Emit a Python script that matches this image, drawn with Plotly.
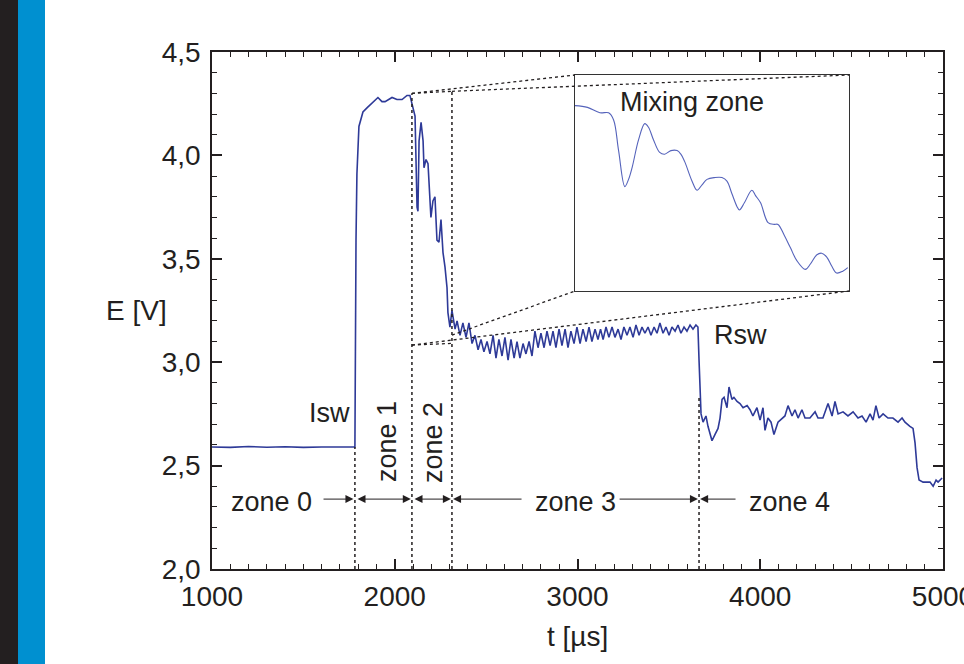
import plotly.graph_objects as go

# ---------------- data ----------------
t_us = [1000, 1100, 1200, 1300, 1400, 1500, 1600, 1700, 1778,
        1782, 1788, 1793, 1804, 1826, 1848, 1881, 1908, 1930, 1947, 1985, 2012, 2040, 2067, 2083,
        2100, 2111, 2116, 2122, 2127, 2133, 2144, 2155, 2160, 2171, 2182, 2193, 2198, 2209, 2220,
        2231, 2242, 2253, 2264, 2275, 2286, 2291, 2302, 2313, 2319, 2330,
        2341, 2357, 2373, 2390, 2406, 2423, 2439, 2456, 2472, 2488, 2505, 2521, 2538, 2554, 2570,
        2587, 2603, 2620, 2636, 2653, 2669, 2685, 2702, 2718, 2735, 2751, 2767, 2784, 2800, 2817,
        2833, 2850, 2866, 2882, 2899, 2915, 2932, 2948, 2964, 2981, 2997, 3014, 3030, 3047, 3063,
        3079, 3096, 3112, 3126,
        3140, 3156, 3172, 3189, 3205, 3222, 3238, 3254, 3271, 3287, 3304, 3320, 3337, 3353, 3369,
        3386, 3402, 3419, 3435, 3451, 3468, 3484, 3501, 3517, 3534, 3550, 3566, 3583, 3599, 3616,
        3632, 3648, 3659, 3665, 3670, 3676, 3687, 3703, 3714, 3736, 3752, 3769, 3780, 3791, 3802,
        3818, 3829, 3845, 3856, 3873, 3889, 3906, 3928, 3944, 3960, 3982, 3999, 4015, 4026, 4042,
        4059, 4075, 4097, 4119, 4135, 4152, 4174, 4190, 4207, 4228, 4245, 4272, 4300, 4316, 4343,
        4371, 4393, 4409, 4426, 4453, 4480, 4508, 4535, 4557, 4579, 4601, 4617, 4633, 4650, 4672,
        4699, 4726, 4754, 4776, 4792, 4819, 4836, 4847, 4858, 4869, 4891, 4913, 4929, 4946, 4962,
        4973, 4995]
e_v = [2.590, 2.588, 2.592, 2.589, 2.591, 2.588, 2.590, 2.589, 2.590,
       2.59, 3.59, 3.91, 4.14, 4.21, 4.23, 4.26, 4.28, 4.26, 4.26, 4.28, 4.27, 4.27, 4.29, 4.29,
       4.23, 4.19, 3.99, 3.75, 3.73, 4.07, 4.16, 4.07, 3.94, 3.98, 3.96, 3.75, 3.70, 3.78, 3.80,
       3.59, 3.58, 3.69, 3.53, 3.46, 3.36, 3.24, 3.17, 3.25, 3.22, 3.16,
       3.20, 3.13, 3.19, 3.12, 3.19, 3.09, 3.13, 3.06, 3.11, 3.05, 3.10, 3.04, 3.13, 3.02, 3.11,
       3.03, 3.12, 3.01, 3.11, 3.02, 3.10, 3.02, 3.09, 3.04, 3.10, 3.03, 3.15, 3.07, 3.14, 3.07,
       3.15, 3.08, 3.15, 3.07, 3.16, 3.08, 3.16, 3.07, 3.15, 3.09, 3.17, 3.09, 3.16, 3.10, 3.17,
       3.10, 3.16, 3.11, 3.16,
       3.11, 3.17, 3.12, 3.17, 3.12, 3.16, 3.11, 3.17, 3.13, 3.17, 3.12, 3.18, 3.13, 3.17, 3.14,
       3.17, 3.13, 3.17, 3.14, 3.19, 3.14, 3.17, 3.13, 3.17, 3.15, 3.18, 3.14, 3.17, 3.15, 3.18,
       3.16, 3.18, 3.17, 3.01, 2.88, 2.75, 2.71, 2.74, 2.69, 2.62, 2.65, 2.68, 2.73, 2.82, 2.83,
       2.78, 2.88, 2.82, 2.83, 2.81, 2.80, 2.78, 2.79, 2.77, 2.74, 2.78, 2.72, 2.78, 2.67, 2.73,
       2.71, 2.65, 2.71, 2.73, 2.74, 2.79, 2.74, 2.77, 2.73, 2.77, 2.73, 2.73, 2.76, 2.73, 2.73,
       2.80, 2.74, 2.81, 2.75, 2.76, 2.74, 2.76, 2.73, 2.74, 2.71, 2.75, 2.72, 2.79, 2.73, 2.75,
       2.73, 2.73, 2.71, 2.73, 2.71, 2.69, 2.68, 2.61, 2.49, 2.43, 2.42, 2.42, 2.42, 2.40, 2.43,
       2.42, 2.44]

# inset ("Mixing zone") curve
inset_t = [2090, 2100, 2110, 2117, 2121, 2125, 2130, 2133, 2136, 2141, 2146, 2149, 2153, 2158,
           2162, 2167, 2172, 2175, 2178, 2184, 2188, 2192, 2196, 2202, 2208, 2212, 2216, 2220,
           2222, 2226, 2232, 2235, 2239, 2245, 2250, 2253, 2258, 2263, 2268, 2275, 2279, 2284,
           2288, 2292, 2296, 2300, 2305, 2309]
inset_e = [4.13, 4.12, 4.09, 4.09, 4.05, 3.88, 3.68, 3.72, 3.79, 3.94, 4.03, 4.01, 3.94, 3.87,
           3.86, 3.88, 3.88, 3.86, 3.82, 3.71, 3.66, 3.69, 3.72, 3.73, 3.73, 3.71, 3.64, 3.57,
           3.55, 3.59, 3.66, 3.63, 3.59, 3.48, 3.47, 3.47, 3.41, 3.34, 3.27, 3.22, 3.25, 3.30,
           3.31, 3.29, 3.24, 3.20, 3.21, 3.23]

x_tickvals = [1000, 2000, 3000, 4000, 5000]
x_ticktext = ["1000", "2000", "3000", "4000", "5000"]
y_tickvals = [2.0, 2.5, 3.0, 3.5, 4.0, 4.5]
y_ticktext = ["2,0", "2,5", "3,0", "3,5", "4,0", "4,5"]

# zone boundaries (Isw, zone1|2, zone2|3, Rsw) and top of their dotted markers
bound_t = [1782, 2094, 2313, 3665]
bound_top = [2.59, 4.30, 4.31, 2.84]
zoom_rect = dict(t0=2094, t1=2313, top0=4.30, top1=4.31, bot0=3.083, bot1=3.131)

arrow_e = 2.338
zone_labels = ["zone 0", "zone 1", "zone 2", "zone 3", "zone 4"]

# ---------------- figure ----------------
FONT = "Liberation Sans, Arial, sans-serif"
TXT = "#231f20"
X_RANGE = [1000, 5000]
Y_RANGE = [2.0, 4.5]
ML, MR, MT, MB = 212, 21, 52, 95
W, H = 964, 664
PW, PH = W - ML - MR, H - MT - MB

fig = go.Figure()
fig.add_trace(go.Scatter(x=t_us, y=e_v, mode="lines",
                         line=dict(color="#2e3a98", width=1.6), showlegend=False))
fig.add_trace(go.Scatter(x=inset_t, y=inset_e, mode="lines", xaxis="x2", yaxis="y2",
                         line=dict(color="#5563bb", width=1.1, shape="spline"), showlegend=False))

axis_common = dict(showgrid=False, zeroline=False, showline=True, linecolor=TXT, linewidth=1.5,
                   mirror="allticks", ticks="inside", ticklen=10, tickwidth=1.5, tickcolor=TXT,
                   ticklabeloverflow="allow", automargin=False,
                   tickfont=dict(family=FONT, size=28, color=TXT))

inset_dom_x = [(575 - ML) / PW, (849 - ML) / PW]
inset_dom_y = [(H - MB - 291) / PH, (H - MB - 75) / PH]
inset_xr = [2090, 2310]
inset_yr = [3.10, 4.30]

fig.update_layout(
    width=W, height=H, margin=dict(l=ML, r=MR, t=MT, b=MB, autoexpand=False),
    paper_bgcolor="white", plot_bgcolor="white",
    font=dict(family=FONT, color=TXT),
    xaxis=dict(range=X_RANGE, tickmode="array", tickvals=x_tickvals, ticktext=x_ticktext,
               minor=dict(tick0=1000, dtick=100, ticks="inside", ticklen=5, tickwidth=1.2,
                          tickcolor=TXT),
               ticklabelstandoff=2, **axis_common),
    yaxis=dict(range=Y_RANGE, tickmode="array", tickvals=y_tickvals, ticktext=y_ticktext,
               minor=dict(tick0=2.0, dtick=0.1, ticks="inside", ticklen=5, tickwidth=1.2,
                          tickcolor=TXT),
               ticklabelstandoff=4, **axis_common),
    xaxis2=dict(domain=inset_dom_x, range=inset_xr, anchor="y2", showticklabels=False,
                showgrid=False, zeroline=False, showline=True, mirror=True, automargin=False,
                linecolor="#333333", linewidth=1),
    yaxis2=dict(domain=inset_dom_y, range=inset_yr, anchor="x2", showticklabels=False,
                showgrid=False, zeroline=False, showline=True, mirror=True, automargin=False,
                linecolor="#333333", linewidth=1),
)

shapes = []
# left decorative bars
bx = lambda px: (px - ML) / PW
shapes.append(dict(type="rect", xref="paper", yref="paper", x0=bx(0), x1=bx(18),
                   y0=-MB / PH, y1=1 + MT / PH, fillcolor="#231f20", line=dict(width=0),
                   layer="above"))
shapes.append(dict(type="rect", xref="paper", yref="paper", x0=bx(18), x1=bx(45),
                   y0=-MB / PH, y1=1 + MT / PH, fillcolor="#0090d0", line=dict(width=0),
                   layer="above"))

dot = dict(color=TXT, width=1.5, dash="dot")
for bt, top in zip(bound_t, bound_top):
    shapes.append(dict(type="line", xref="x", yref="y", x0=bt, x1=bt, y0=Y_RANGE[0], y1=top,
                       line=dot))

# zoom connector lines (inset corners expressed in main data coords)
def to_t(frac):
    return X_RANGE[0] + frac * (X_RANGE[1] - X_RANGE[0])

def to_e(frac):
    return Y_RANGE[0] + frac * (Y_RANGE[1] - Y_RANGE[0])

iL, iR = to_t(inset_dom_x[0]), to_t(inset_dom_x[1])
iB, iT = to_e(inset_dom_y[0]), to_e(inset_dom_y[1])
zr = zoom_rect
conn = [
    (zr["t0"], zr["top0"], zr["t1"], zr["top1"]),
    (zr["t0"], zr["bot0"], zr["t1"], zr["bot1"] - 0.04),
    (zr["t0"], zr["top0"], iL, iT),
    (zr["t1"], zr["top1"], iR, iT),
    (zr["t1"], zr["bot1"], iL, iB),
    (zr["t0"], zr["bot0"], iR, iB),
]
for x0, y0, x1, y1 in conn:
    shapes.append(dict(type="line", xref="x", yref="y", x0=x0, y0=y0, x1=x1, y1=y1,
                       line=dict(color=TXT, width=1.3, dash="dot")))
fig.update_layout(shapes=shapes)

ann = []
def arrow(x_to, x_from, both=False):
    ann.append(dict(x=x_to, y=arrow_e, ax=x_from, ay=arrow_e, xref="x", yref="y",
                    axref="x", ayref="y", text="", showarrow=True, arrowhead=2,
                    arrowsize=1.6, arrowwidth=1, arrowcolor=TXT,
                    arrowside="end+start" if both else "end"))

arrow(bound_t[0] - 8, 1602)
arrow(bound_t[1] - 6, bound_t[0] + 6, both=True)
arrow(bound_t[2] - 6, bound_t[1] + 6, both=True)
arrow(bound_t[2] + 6, 2702)
arrow(bound_t[3] - 6, 3222)
arrow(bound_t[3] + 6, 3873)

tf = dict(family=FONT, size=27, color=TXT)
ann.append(dict(x=1323, y=arrow_e, text=zone_labels[0], showarrow=False, font=tf,
                xref="x", yref="y", yshift=-3))
ann.append(dict(x=1958, y=2.614, text=zone_labels[1], showarrow=False, font=tf, textangle=-90,
                xref="x", yref="y"))
ann.append(dict(x=2209, y=2.614, text=zone_labels[2], showarrow=False, font=tf, textangle=-90,
                xref="x", yref="y"))
ann.append(dict(x=2989, y=arrow_e, text=zone_labels[3], showarrow=False, font=tf,
                xref="x", yref="y", yshift=-3))
ann.append(dict(x=4160, y=arrow_e, text=zone_labels[4], showarrow=False, font=tf,
                xref="x", yref="y", yshift=-3))
ann.append(dict(x=1766, y=2.754, text="Isw", showarrow=False, font=tf, xanchor="right",
                xref="x", yref="y"))
ann.append(dict(x=3736, y=3.131, text="Rsw", showarrow=False, font=tf, xanchor="left",
                xref="x", yref="y"))
ann.append(dict(x=2184, y=4.15, text="Mixing zone", showarrow=False, font=tf,
                xref="x2", yref="y2"))
ann.append(dict(x=0.5, y=-(636 - (H - MB)) / PH, text="t [µs]", showarrow=False,
                xanchor="center", yanchor="middle",
                font=dict(family=FONT, size=28, color=TXT), xref="paper", yref="paper"))
ann.append(dict(x=(136 - ML) / PW, y=0.5, text="E [V]", showarrow=False,
                xanchor="center", yanchor="middle",
                font=dict(family=FONT, size=28, color=TXT), xref="paper", yref="paper"))
fig.update_layout(annotations=ann)

fig.write_html("out.html", config={"displayModeBar": False},
               post_script="document.body.style.margin='0';document.body.style.overflow='hidden';")
